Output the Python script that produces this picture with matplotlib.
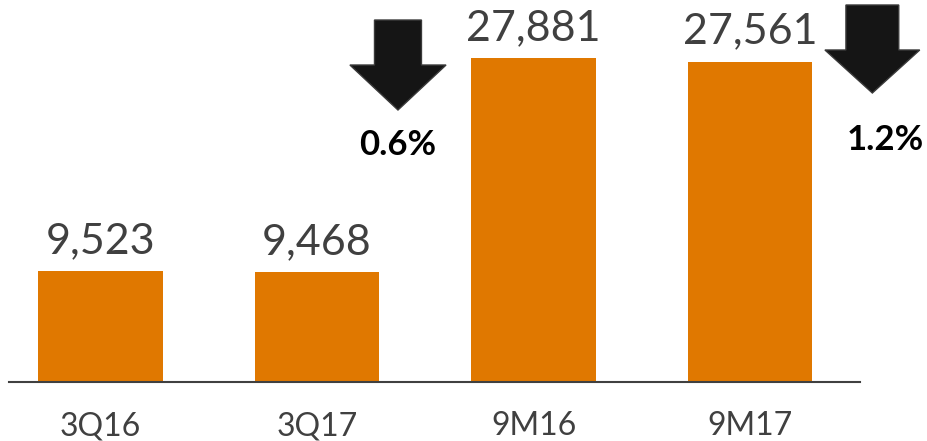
import matplotlib
matplotlib.use("Agg")
import matplotlib.pyplot as plt
from matplotlib.patches import Polygon

categories = ["3Q16", "3Q17", "9M16", "9M17"]
values = [9523, 9468, 27881, 27561]
changes = ["0.6%", "1.2%"]

orange = "#E07800"
grey = "#404040"

plt.rcParams['font.family'] = ['Lato', 'DejaVu Sans']

fig = plt.figure(figsize=(9.28, 4.41), dpi=100)
ax = fig.add_axes([9 / 928, 59 / 441, 851 / 928, 382 / 441])

x = list(range(len(categories)))
ax.bar(x, values, width=0.573, color=orange)

for i, v in zip(x, values):
    ax.annotate("{:,}".format(v), (i, v), xytext=(0, 13), textcoords="offset points",
                ha="center", va="baseline", fontsize=31, color=grey)
    ax.text(i, -53 / 382, categories[i], transform=ax.get_xaxis_transform(),
            ha="center", va="baseline", fontsize=23, color=grey)

ax.set_xlim(-0.4226, 3.508)
ax.set_ylim(0, 32872)
for s in ["top", "right", "left"]:
    ax.spines[s].set_visible(False)
ax.spines["bottom"].set_color(grey)
ax.spines["bottom"].set_linewidth(1.5)
ax.set_xticks([])
ax.set_yticks([])


def down_arrow(cx, top, neck, tip, shaft, head):
    pts = [(cx - shaft, top), (cx + shaft, top), (cx + shaft, neck), (cx + head, neck),
           (cx, tip), (cx - head, neck), (cx - shaft, neck)]
    ax.add_patch(Polygon(pts, closed=True, facecolor="#151515", edgecolor="#3a3a3a",
                         linewidth=1, clip_on=False, zorder=5))


# arrow between 3Q17 and 9M16
down_arrow(1.374, 31150, 27278, 23406, 0.1085, 0.222)
ax.text(1.374, 20394, changes[0], ha="center", va="center", fontsize=25,
        fontweight="bold", color="black", clip_on=False)

# arrow right of 9M17
down_arrow(3.565, 32442, 28570, 24870, 0.122, 0.219)
ax.text(3.624, 20824, changes[1], ha="center", va="center", fontsize=25,
        fontweight="bold", color="black", clip_on=False)

fig.savefig("out.png", dpi=100)
